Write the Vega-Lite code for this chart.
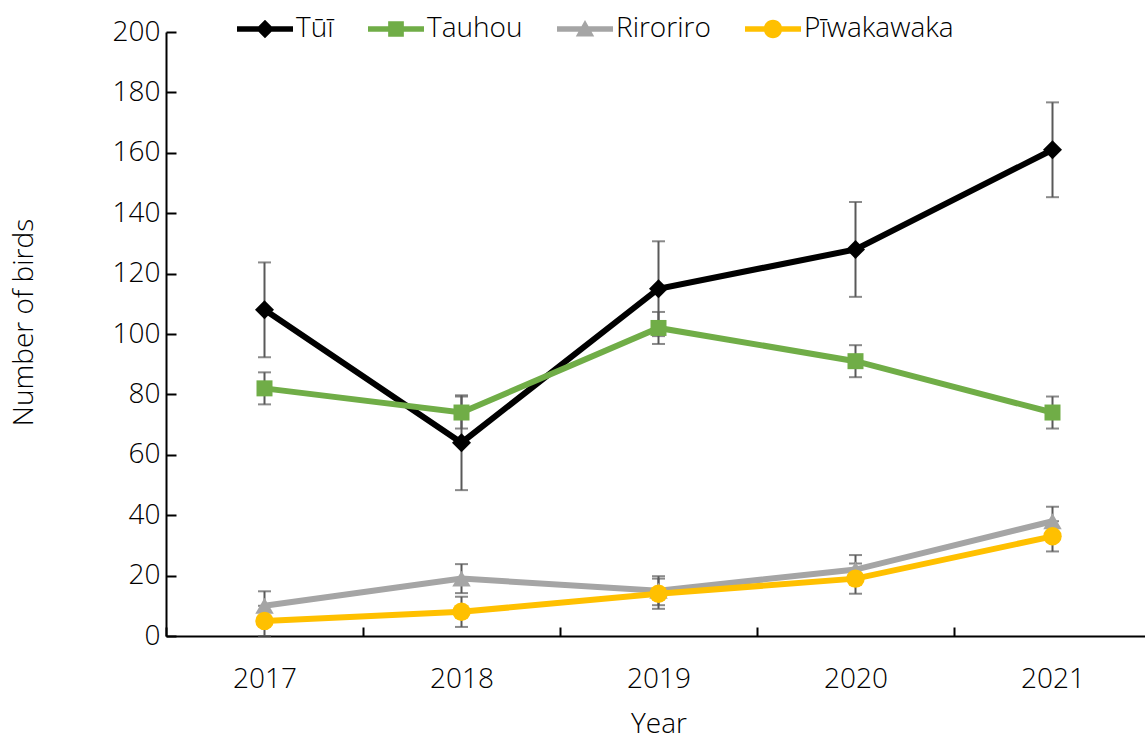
{
  "$schema": "https://vega.github.io/schema/vega-lite/v6.json",
  "autosize": {"type": "none"},
  "padding": {"left": 166, "top": 32, "right": 0, "bottom": 102},
  "width": 985,
  "height": 604,
  "background": "white",
  "config": {
    "font": "Open Sans",
    "view": {"stroke": null},
    "axis": {"labelFontWeight": 300, "titleFontWeight": 300, "labelColor": "#000000", "titleColor": "#000000", "labelFontSize": 28, "titleFontSize": 28, "domainColor": "#000000", "domainWidth": 2, "tickColor": "#000000", "tickWidth": 2}
  },
  "data": {"values": [
    {"series": "Tūī", "year": "2017", "n": 108, "lo": 92.3, "hi": 123.7},
    {"series": "Tūī", "year": "2018", "n": 64, "lo": 48.3, "hi": 79.7},
    {"series": "Tūī", "year": "2019", "n": 115, "lo": 99.3, "hi": 130.7},
    {"series": "Tūī", "year": "2020", "n": 128, "lo": 112.3, "hi": 143.7},
    {"series": "Tūī", "year": "2021", "n": 161, "lo": 145.3, "hi": 176.7},
    {"series": "Tauhou", "year": "2017", "n": 82, "lo": 76.7, "hi": 87.3},
    {"series": "Tauhou", "year": "2018", "n": 74, "lo": 68.7, "hi": 79.3},
    {"series": "Tauhou", "year": "2019", "n": 102, "lo": 96.7, "hi": 107.3},
    {"series": "Tauhou", "year": "2020", "n": 91, "lo": 85.7, "hi": 96.3},
    {"series": "Tauhou", "year": "2021", "n": 74, "lo": 68.7, "hi": 79.3},
    {"series": "Riroriro", "year": "2017", "n": 10, "lo": 5.2, "hi": 14.8},
    {"series": "Riroriro", "year": "2018", "n": 19, "lo": 14.2, "hi": 23.8},
    {"series": "Riroriro", "year": "2019", "n": 15, "lo": 10.2, "hi": 19.8},
    {"series": "Riroriro", "year": "2020", "n": 22, "lo": 17.2, "hi": 26.8},
    {"series": "Riroriro", "year": "2021", "n": 38, "lo": 33.2, "hi": 42.8},
    {"series": "Pīwakawaka", "year": "2017", "n": 5, "lo": 0, "hi": 10},
    {"series": "Pīwakawaka", "year": "2018", "n": 8, "lo": 3, "hi": 13},
    {"series": "Pīwakawaka", "year": "2019", "n": 14, "lo": 9, "hi": 19},
    {"series": "Pīwakawaka", "year": "2020", "n": 19, "lo": 14, "hi": 24},
    {"series": "Pīwakawaka", "year": "2021", "n": 33, "lo": 28, "hi": 38}
  ]},
  "encoding": {
    "x": {"field": "year", "type": "ordinal", "scale": {"type": "band", "paddingInner": 0, "paddingOuter": 0},
      "axis": {"title": "Year", "labelAngle": 0, "tickBand": "extent", "tickSize": -9, "labelPadding": 38, "titleY": 74, "grid": false}}
  },
  "layer": [
    {
      "mark": {"type": "rule", "color": "#595959", "strokeWidth": 2},
      "encoding": {
        "y": {"field": "lo", "type": "quantitative", "scale": {"domain": [0, 200]},
          "axis": {"title": "Number of birds", "values": [0,20,40,60,80,100,120,140,160,180,200], "grid": false, "tickSize": -10, "labelPadding": 16, "titleX": -128, "titleY": 290}},
        "y2": {"field": "hi"}
      }
    },
    {
      "mark": {"type": "tick", "color": "#595959", "size": 13, "thickness": 2},
      "encoding": {"y": {"field": "lo", "type": "quantitative"}}
    },
    {
      "mark": {"type": "tick", "color": "#595959", "size": 13, "thickness": 2},
      "encoding": {"y": {"field": "hi", "type": "quantitative"}}
    },
    {
      "mark": {"type": "line", "strokeWidth": 6},
      "encoding": {
        "y": {"field": "n", "type": "quantitative"},
        "color": {"field": "series", "type": "nominal",
          "scale": {"domain": ["Tūī", "Tauhou", "Riroriro", "Pīwakawaka"], "range": ["#000000", "#70AD47", "#A5A5A5", "#FFC000"]},
          "legend": {
            "title": null, "orient": "none", "direction": "horizontal", "columns": 4,
            "legendX": 71, "legendY": -31, "padding": 0,
            "symbolSize": 3136, "symbolType": "M-1,-0.1H1V0.1H-1Z", "labelFontSize": 28, "labelFont": "Open Sans", "labelFontWeight": 300, "labelColor": "#000000",
            "labelOffset": 3, "columnPadding": 34,
            "encode": {"symbols": {"update": {
              "shape": {"signal": "datum.value === 'Tūī' ? 'M-1,-0.1H1V0.1H-1Z M0,-0.33L0.33,0L0,0.33L-0.33,0Z' : datum.value === 'Tauhou' ? 'M-1,-0.1H1V0.1H-1Z M-0.28,-0.28H0.28V0.28H-0.28Z' : datum.value === 'Riroriro' ? 'M-1,-0.1H1V0.1H-1Z M0,-0.32L0.33,0.27H-0.33Z' : 'M-1,-0.1H1V0.1H-1Z M-0.33,0A0.33,0.33 0 1,1 0.33,0A0.33,0.33 0 1,1 -0.33,0Z'"},
              "size": {"value": 3136},
              "fill": {"scale": "color", "field": "value"},
              "strokeWidth": {"value": 0},
              "opacity": {"value": 1}
            }}}
          }}
      }
    },
    {
      "transform": [{"filter": "datum.series === 'Tūī'"}],
      "mark": {"type": "point", "filled": true, "opacity": 1, "shape": "diamond", "size": 360},
      "encoding": {"y": {"field": "n", "type": "quantitative"}, "color": {"field": "series", "type": "nominal"}}
    },
    {
      "transform": [{"filter": "datum.series === 'Tauhou'"}],
      "mark": {"type": "point", "filled": true, "opacity": 1, "shape": "square", "size": 256},
      "encoding": {"y": {"field": "n", "type": "quantitative"}, "color": {"field": "series", "type": "nominal"}}
    },
    {
      "transform": [{"filter": "datum.series === 'Riroriro'"}],
      "mark": {"type": "point", "filled": true, "opacity": 1, "shape": "triangle-up", "size": 340},
      "encoding": {"y": {"field": "n", "type": "quantitative"}, "color": {"field": "series", "type": "nominal"}}
    },
    {
      "transform": [{"filter": "datum.series === 'Pīwakawaka'"}],
      "mark": {"type": "point", "filled": true, "opacity": 1, "shape": "circle", "size": 340},
      "encoding": {"y": {"field": "n", "type": "quantitative"}, "color": {"field": "series", "type": "nominal"}}
    }
  ]
}
